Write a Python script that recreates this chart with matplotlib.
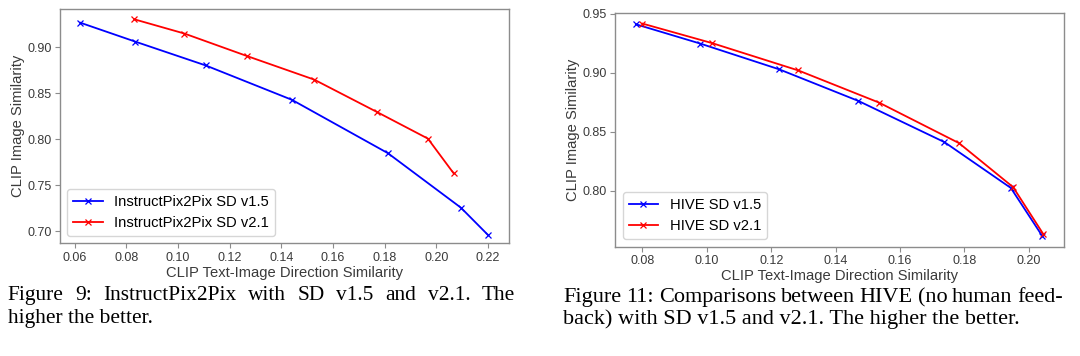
import matplotlib
matplotlib.use("Agg")
import matplotlib.pyplot as plt

# left panel: InstructPix2Pix
ip_v15_x = [0.0621, 0.0833, 0.1107, 0.1441, 0.1812, 0.2095, 0.2200]
ip_v15_y = [0.9268, 0.9063, 0.8803, 0.8429, 0.7850, 0.7257, 0.6960]
ip_v21_x = [0.0831, 0.1024, 0.1267, 0.1527, 0.1770, 0.1967, 0.2067]
ip_v21_y = [0.9304, 0.9150, 0.8905, 0.8649, 0.8297, 0.8008, 0.7630]

# right panel: HIVE
hive_v15_x = [0.0780, 0.0979, 0.1225, 0.1471, 0.1738, 0.1944, 0.2042]
hive_v15_y = [0.9410, 0.9247, 0.9028, 0.8760, 0.8411, 0.8023, 0.7614]
hive_v21_x = [0.0800, 0.1017, 0.1284, 0.1535, 0.1783, 0.1951, 0.2045]
hive_v21_y = [0.9416, 0.9250, 0.9019, 0.8746, 0.8403, 0.8030, 0.7631]

W, H = 1080, 356
fig = plt.figure(figsize=(W / 100, H / 100), dpi=100)
plt.rcParams['font.family'] = ['Liberation Sans', 'DejaVu Sans']

spine_col = '#8c8c8c'
text_col = '#3a3a3a'


def style(ax):
    for s in ax.spines.values():
        s.set_color(spine_col)
        s.set_linewidth(1.0)
    ax.tick_params(colors=spine_col, labelcolor=text_col, labelsize=9, length=3.5, width=0.8, pad=2.5)
    ax.set_xlabel("CLIP Text-Image Direction Similarity", fontsize=10.6, color=text_col, labelpad=1.5)
    ax.set_ylabel("CLIP Image Similarity", fontsize=10.6, color=text_col, labelpad=2)


ax1 = fig.add_axes([60 / W, 1 - 243.3 / H, 448.7 / W, 234 / H])
ax1.plot(ip_v15_x, ip_v15_y, 'b-x', lw=1.3, ms=5, mew=0.9, label="InstructPix2Pix SD v1.5")
ax1.plot(ip_v21_x, ip_v21_y, 'r-x', lw=1.3, ms=5, mew=0.9, label="InstructPix2Pix SD v2.1")
ax1.set_xlim(0.0543, 0.228)
ax1.set_ylim(0.687, 0.9413)
ax1.set_xticks([0.06, 0.08, 0.10, 0.12, 0.14, 0.16, 0.18, 0.20, 0.22])
ax1.set_yticks([0.70, 0.75, 0.80, 0.85, 0.90])
style(ax1)
ax1.legend(loc='lower left', fontsize=10.6)

ax2 = fig.add_axes([615.3 / W, 1 - 246.7 / H, 449 / W, 233.4 / H])
ax2.plot(hive_v15_x, hive_v15_y, 'b-x', lw=1.3, ms=5, mew=0.9, label="HIVE SD v1.5")
ax2.plot(hive_v21_x, hive_v21_y, 'r-x', lw=1.3, ms=5, mew=0.9, label="HIVE SD v2.1")
ax2.set_xlim(0.0716, 0.211)
ax2.set_ylim(0.7525, 0.9503)
ax2.set_xticks([0.08, 0.10, 0.12, 0.14, 0.16, 0.18, 0.20])
ax2.set_yticks([0.80, 0.85, 0.90, 0.95])
style(ax2)
ax2.legend(loc='lower left', fontsize=10.6)

renderer = fig.canvas.get_renderer()


def justify(words, x0, x1, y, size):
    # spread words so the line fills x0..x1 (pixels), like LaTeX does
    ts = [fig.text(0, 1 - y / H, w, fontsize=size, family='Liberation Serif',
                   color='black', va='baseline') for w in words]
    ws = [t.get_window_extent(renderer).width for t in ts]
    gap = (x1 - x0 - sum(ws)) / (len(ws) - 1)
    x = x0
    for t, w in zip(ts, ws):
        t.set_x(x / W)
        x += w + gap


justify("Figure 9: InstructPix2Pix with SD v1.5 and v2.1. The".split(), 7.6, 515, 300, 15.4)
fig.text(7.6 / W, 1 - 323.5 / H, "higher the better.", fontsize=15.4,
         family='Liberation Serif', va='baseline')

justify("Figure 11: Comparisons between HIVE (no human feed-".split(), 563.4, 1063, 302, 16)
fig.text(563.4 / W, 1 - 324 / H, "back) with SD v1.5 and v2.1. The higher the better.",
         fontsize=16, family='Liberation Serif', va='baseline')

fig.savefig("out.png", dpi=100)
